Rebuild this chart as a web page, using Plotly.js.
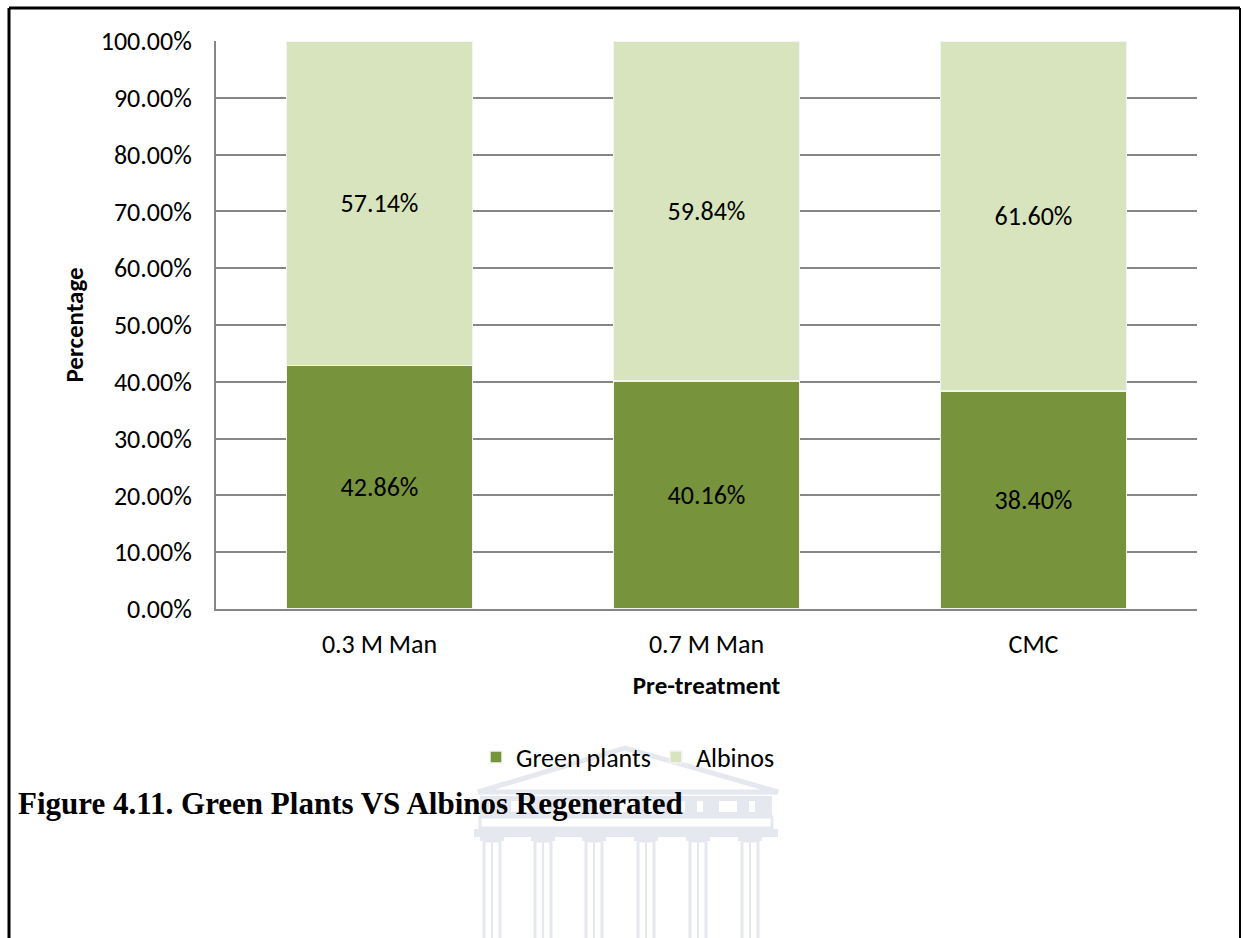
<!DOCTYPE html>
<html>
<head>
<meta charset="utf-8">
<script src="https://cdn.plot.ly/plotly-3.0.1.min.js"></script>
<style>html,body{margin:0;padding:0;background:#fff;}#chart{width:1243px;height:938px;}</style>
</head>
<body>
<div id="chart"></div>
<script>
const categories = ["0.3 M Man", "0.7 M Man", "CMC"];
const greenPlants = [42.86, 40.16, 38.40];
const albinos = [57.14, 59.84, 61.60];
const yTicks = [0, 10, 20, 30, 40, 50, 60, 70, 80, 90, 100];
const yTickLabels = ["0.00%", "10.00%", "20.00%", "30.00%", "40.00%", "50.00%", "60.00%", "70.00%", "80.00%", "90.00%", "100.00%"];

const W = 1243, H = 938, L = 216, R = 1197, T = 41, B = 609;
const px = x => (x - L) / (R - L);
const py = y => (B - y) / (B - T);
const font = "Carlito, Lato, 'Liberation Sans', sans-serif";
const wm = "#e6e8f0";

const shapes = [];
function rect(x0, y0, x1, y1, fill, lineColor, lw) {
  shapes.push({type: "rect", xref: "paper", yref: "paper", layer: "below",
    x0: px(x0), x1: px(x1), y0: py(y1), y1: py(y0),
    fillcolor: fill, line: {color: lineColor || fill, width: lw || 0}});
}
// faint watermark building
shapes.push({type: "path", xref: "paper", yref: "paper", layer: "below",
  path: `M ${px(478)} ${py(792)} L ${px(625)} ${py(748)} L ${px(778)} ${py(792)} Z`,
  fillcolor: "rgba(0,0,0,0)", line: {color: wm, width: 5}});
rect(480, 796, 772, 816, wm);
[492, 520, 545, 572, 598, 624, 650, 676, 700, 728, 752].forEach((c, i) => {
  rect(c - (i % 2 ? 9 : 3), 801, c + (i % 2 ? 9 : 3), 812, "#ffffff");
});
rect(480, 817, 772, 828, "rgba(0,0,0,0)", wm, 3);
rect(474, 829, 778, 837, wm);
[492, 543, 594, 646, 698, 750].forEach(c => {
  rect(c - 12, 837, c + 12, 841, wm);
  rect(c - 8, 841, c + 8, 945, "rgba(0,0,0,0)", wm, 3);
  rect(c - 1, 841, c + 1, 945, wm);
});

// border box
shapes.push({type: "line", xref: "paper", yref: "paper", x0: px(9), x1: px(1240), y0: py(8), y1: py(8), line: {color: "#000", width: 3}});
shapes.push({type: "line", xref: "paper", yref: "paper", x0: px(9), x1: px(9), y0: py(8), y1: py(940), line: {color: "#000", width: 3}});
shapes.push({type: "line", xref: "paper", yref: "paper", x0: px(1240), x1: px(1240), y0: py(8), y1: py(940), line: {color: "#000", width: 2}});

const data = [
  {type: "bar", name: "Green plants", x: categories, y: greenPlants,
   marker: {color: "#77933C", line: {color: "#f4f4f4", width: 1.5}},
   texttemplate: "%{y:.2f}%", textposition: "inside", insidetextanchor: "middle",
   textfont: {family: font, size: 26, color: "#000"}, hoverinfo: "x+y"},
  {type: "bar", name: "Albinos", x: categories, y: albinos,
   marker: {color: "#D7E4BD", line: {color: "#f4f4f4", width: 1.5}},
   texttemplate: "%{y:.2f}%", textposition: "inside", insidetextanchor: "middle",
   textfont: {family: font, size: 26, color: "#000"}, hoverinfo: "x+y"}
];

const layout = {
  width: W, height: H,
  margin: {l: L, r: W - R, t: T, b: H - B, pad: 0},
  paper_bgcolor: "#fff", plot_bgcolor: "#fff",
  barmode: "stack", bargap: 0.43,
  font: {family: font, size: 26, color: "#000"},
  showlegend: true,
  legend: {orientation: "h", x: px(628), xanchor: "center", y: py(757), yanchor: "middle",
    font: {family: font, size: 26, color: "#000"}, traceorder: "normal", itemwidth: 30,
    bgcolor: "rgba(0,0,0,0)"},
  xaxis: {type: "category", showgrid: false, showline: true, linecolor: "#868686", linewidth: 2,
    ticks: "", ticklabelstandoff: 11, tickfont: {family: font, size: 26, color: "#000"},
    title: {text: "<b>Pre-treatment</b>", font: {family: font, size: 25, color: "#000"}, standoff: 17}},
  yaxis: {range: [0, 100], tickvals: yTicks, ticktext: yTickLabels, showgrid: true,
    gridcolor: "#868686", gridwidth: 2, showline: true, linecolor: "#868686", linewidth: 2,
    ticks: "", ticklabelstandoff: 17, zeroline: false, tickfont: {family: font, size: 26, color: "#000"},
    title: {text: "<b>Percentage</b>", font: {family: font, size: 25, color: "#000"}, standoff: 10}},
  shapes: shapes,
  annotations: [{xref: "paper", yref: "paper", x: px(16), y: py(803), xanchor: "left", yanchor: "middle",
    showarrow: false, text: "<b>Figure 4.11. Green Plants VS Albinos Regenerated</b>",
    font: {family: "'Liberation Serif', 'Times New Roman', serif", size: 31, color: "#000"}}]
};

Plotly.newPlot("chart", data, layout, {displayModeBar: false, staticPlot: true});
</script>
</body>
</html>
